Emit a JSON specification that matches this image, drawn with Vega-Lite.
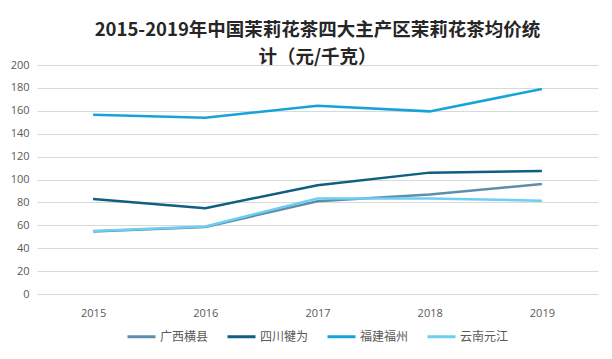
{
  "$schema": "https://vega.github.io/schema/vega-lite/v6.json",
  "width": 612,
  "height": 359,
  "autosize": {"type": "fit", "contains": "padding"},
  "padding": {"left": 10, "right": 14, "top": 20, "bottom": 16},
  "background": "white",
  "title": {
    "text": ["2015-2019年中国茉莉花茶四大主产区茉莉花茶均价统", "计（元/千克）"],
    "font": "Noto Sans CJK SC",
    "fontSize": 18.5,
    "fontWeight": "bold",
    "color": "#262626",
    "lineHeight": 27,
    "anchor": "middle",
    "offset": -7
  },
  "data": {
    "values": [
      {"year": "2015", "region": "广西横县", "price": 54.5},
      {"year": "2016", "region": "广西横县", "price": 58.5},
      {"year": "2017", "region": "广西横县", "price": 81},
      {"year": "2018", "region": "广西横县", "price": 87},
      {"year": "2019", "region": "广西横县", "price": 96},
      {"year": "2015", "region": "四川犍为", "price": 83},
      {"year": "2016", "region": "四川犍为", "price": 75},
      {"year": "2017", "region": "四川犍为", "price": 95},
      {"year": "2018", "region": "四川犍为", "price": 106},
      {"year": "2019", "region": "四川犍为", "price": 107.5},
      {"year": "2015", "region": "福建福州", "price": 156.5},
      {"year": "2016", "region": "福建福州", "price": 154},
      {"year": "2017", "region": "福建福州", "price": 164.5},
      {"year": "2018", "region": "福建福州", "price": 159.5},
      {"year": "2019", "region": "福建福州", "price": 179},
      {"year": "2015", "region": "云南元江", "price": 55},
      {"year": "2016", "region": "云南元江", "price": 59},
      {"year": "2017", "region": "云南元江", "price": 83.5},
      {"year": "2018", "region": "云南元江", "price": 83.5},
      {"year": "2019", "region": "云南元江", "price": 81.5}
    ]
  },
  "mark": {"type": "line", "strokeWidth": 2.5},
  "encoding": {
    "x": {
      "field": "year",
      "type": "ordinal",
      "scale": {"type": "point", "padding": 0.5},
      "axis": {
        "title": null,
        "labelAngle": 0,
        "domain": false,
        "ticks": false,
        "labelColor": "#595959",
        "labelFont": "Open Sans",
        "labelFontSize": 11,
        "labelPadding": 13
      }
    },
    "y": {
      "field": "price",
      "type": "quantitative",
      "scale": {"domain": [0, 200]},
      "axis": {
        "title": null,
        "values": [0, 20, 40, 60, 80, 100, 120, 140, 160, 180, 200],
        "domain": false,
        "ticks": false,
        "gridColor": "#d9d9d9",
        "gridWidth": 1,
        "labelColor": "#595959",
        "labelFont": "Open Sans",
        "labelFontSize": 11,
        "labelPadding": 8
      }
    },
    "color": {
      "field": "region",
      "type": "nominal",
      "sort": ["广西横县", "四川犍为", "福建福州", "云南元江"],
      "scale": {
        "domain": ["广西横县", "四川犍为", "福建福州", "云南元江"],
        "range": ["#5e8ea8", "#0f5f82", "#17a3d8", "#6dcdf2"]
      },
      "legend": {
        "title": null,
        "orient": "bottom",
        "direction": "horizontal",
        "symbolType": "stroke",
        "symbolStrokeWidth": 3,
        "symbolSize": 784,
        "labelOffset": 3,
        "labelFont": "Noto Sans CJK SC",
        "labelFontSize": 12,
        "labelColor": "#595959",
        "columnPadding": 12,
        "offset": 3
      }
    }
  },
  "config": {
    "view": {"stroke": null},
    "legend": {"layout": {"bottom": {"anchor": "middle"}}}
  }
}
